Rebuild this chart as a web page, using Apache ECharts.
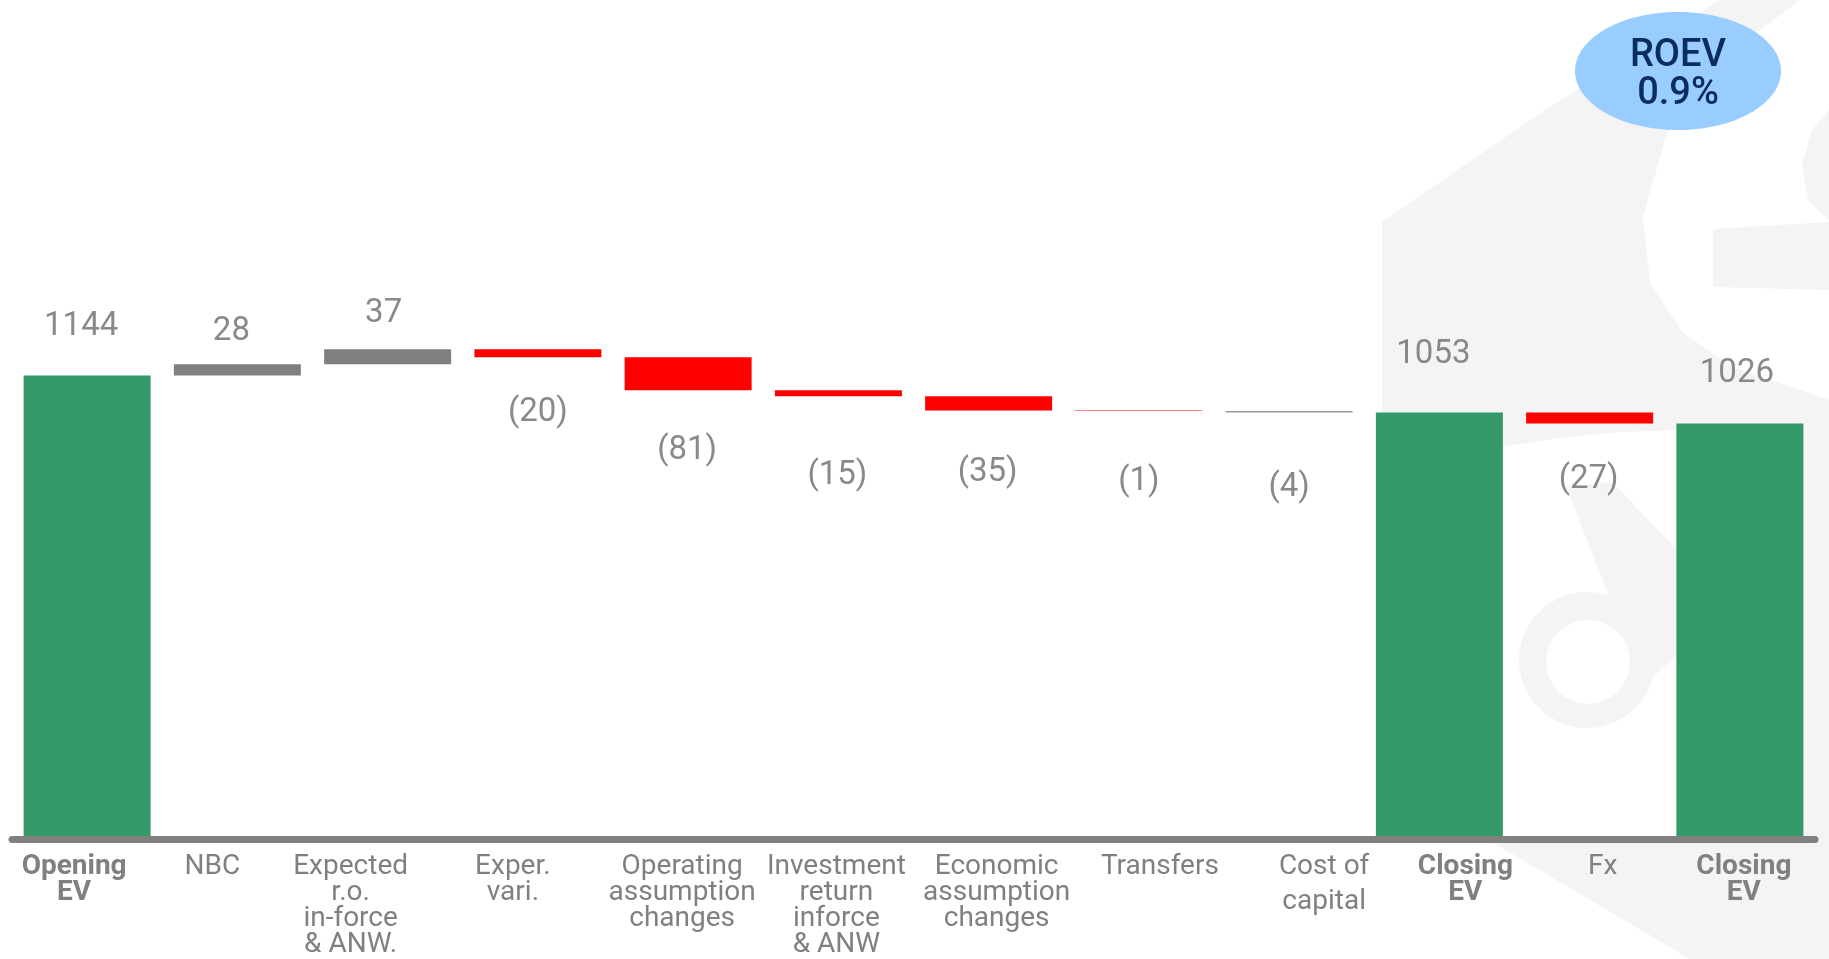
<!DOCTYPE html>
<html><head><meta charset="utf-8">
<script src="https://cdn.jsdelivr.net/npm/echarts@6/dist/echarts.min.js"></script>
<style>html,body{margin:0;padding:0;background:#fff}#c{width:1829px;height:959px}</style>
</head><body><div id="c"></div>
<script>
// ---- data ----
const categories = ['Opening\nEV','NBC','Expected\nr.o.\nin-force\n& ANW.','Exper.\nvari.','Operating\nassumption\nchanges','Investment\nreturn\ninforce\n& ANW','Economic\nassumption\nchanges','Transfers','Cost of\ncapital','Closing\nEV','Fx','Closing\nEV'];
const values = [1144, 28, 37, -20, -81, -15, -35, -1, -4, 1053, -27, 1026];
const isTotal = [true,false,false,false,false,false,false,false,false,true,false,true];
const roevTitle = 'ROEV';
const roevValue = '0.9%';

// ---- layout / style (not data) ----
const barColors = ['#339966','#808080','#808080','#ff0000','#ff0000','#ff0000','#ff0000','#ff0000','#999999','#339966','#ff0000','#339966'];
const valueLabelGap = [49,33,36,55,61,79,62,71,75,58,56,50];
const valueLabelDx = [-6,-6,-4,0,-1,-1,-1,0,0,-6,-1,-3];
const catLabelDx = [-13,-25,-37,-25,-6,-2,8,21,35,26,13,4];
const WM = '#f4f4f4';

// waterfall bases
const base = [], vis = [];
let running = 0;
values.forEach((v, i) => {
  if (isTotal[i]) { base.push(0); vis.push(v); running = v; }
  else if (v >= 0) { base.push(running); vis.push(v); running += v; }
  else { running += v; base.push(running); vis.push(-v); }
});

const LH = 34;
const visData = vis.map((val, i) => {
  const up = isTotal[i] || values[i] >= 0;
  return {
    value: val,
    itemStyle: { color: barColors[i] },
    label: { position: up ? 'top' : 'bottom', distance: valueLabelGap[i] - LH / 2, offset: [valueLabelDx[i], 0] }
  };
});

const rich = {};
categories.forEach((c, i) => {
  const d = catLabelDx[i];
  const pad = d >= 0 ? [0, 0, 0, 2 * d] : [0, -2 * d, 0, 0];
  const common = { fontFamily: 'Roboto', fontSize: 28, lineHeight: 26, color: '#808080', padding: pad };
  rich['n' + i] = Object.assign({}, common);
  rich['b' + i] = Object.assign({}, common, { fontWeight: 'bold' });
  rich['c' + i] = Object.assign({}, common, { lineHeight: 44 });
});

const chart = echarts.init(document.getElementById('c'), null, { renderer: 'canvas' });
chart.setOption({
  animation: false,
  backgroundColor: '#ffffff',
  grid: { left: 12, right: 14, top: 28.5, bottom: 118.5 },
  xAxis: {
    type: 'category',
    data: categories,
    z: 5,
    axisLine: { lineStyle: { color: '#808080', width: 7 } },
    axisTick: { show: false },
    axisLabel: {
      interval: 0,
      margin: 14.5,
      verticalAlign: 'top',
      formatter: (value, index) => {
        const lines = categories[index].split('\n');
        return lines.map((ln, k) => {
          let s = isTotal[index] ? 'b' : 'n';
          if (index === 8 && k === 1) s = 'c';
          return '{' + s + index + '|' + ln + '}';
        }).join('\n');
      },
      rich: rich
    }
  },
  yAxis: { type: 'value', min: 0, max: 2000, show: false },
  graphic: [
    { type: 'polygon', z: 0, silent: true, shape: { points: [[1382,222],[1536,116],[1640,50],[1720,0],[1829,0],[1829,959],[1690,959],[1492,842],[1382,842]] }, style: { fill: WM } },
    { type: 'polygon', z: 0, silent: true, shape: { points: [[1800,0],[1760,30],[1717,67],[1667,133],[1643,217],[1650,283],[1683,333],[1733,367],[1829,400],[1829,0]] }, style: { fill: '#ffffff' } },
    { type: 'polygon', z: 0, silent: true, shape: { points: [[1829,110],[1812,130],[1802,165],[1808,200],[1829,220]] }, style: { fill: WM } },
    { type: 'polygon', z: 0, silent: true, shape: { points: [[1713,229],[1829,222],[1829,290],[1713,287]] }, style: { fill: WM } },
    { type: 'polygon', z: 0, silent: true, shape: { points: [[1500,447],[1560,438],[1620,432],[1682,430],[1682,842],[1500,842]] }, style: { fill: '#ffffff' } },
    { type: 'polygon', z: 0, silent: true, shape: { points: [[1566,487],[1612,482],[1682,555],[1682,650],[1650,680],[1610,598]] }, style: { fill: WM } },
    { type: 'circle', z: 0, silent: true, shape: { cx: 1587, cy: 660, r: 68 }, style: { fill: WM } },
    { type: 'circle', z: 0, silent: true, shape: { cx: 1588, cy: 662, r: 42 }, style: { fill: '#ffffff' } },
    { type: 'ellipse', z: 20, silent: true, shape: { cx: 1678, cy: 71, rx: 103, ry: 59 }, style: { fill: '#99ccff' } },
    { type: 'text', z: 21, silent: true, x: 1678, y: 56, style: { text: roevTitle, fill: '#0b2d5e', font: '500 38px Roboto', align: 'center', verticalAlign: 'middle' } },
    { type: 'text', z: 21, silent: true, x: 1678, y: 94, style: { text: roevValue, fill: '#0b2d5e', font: '500 38px Roboto', align: 'center', verticalAlign: 'middle' } }
  ],
  series: [
    {
      type: 'bar', stack: 'w', barWidth: 127, silent: true,
      itemStyle: { color: 'rgba(0,0,0,0)' },
      label: { show: false },
      data: base
    },
    {
      type: 'bar', stack: 'w', barWidth: 127,
      label: {
        show: true,
        fontFamily: 'Roboto', fontSize: 33, lineHeight: LH, color: '#898989',
        formatter: p => {
          const v = values[p.dataIndex];
          return (isTotal[p.dataIndex] || v >= 0) ? String(v) : '(' + (-v) + ')';
        }
      },
      data: visData
    }
  ]
});
</script>
</body></html>
